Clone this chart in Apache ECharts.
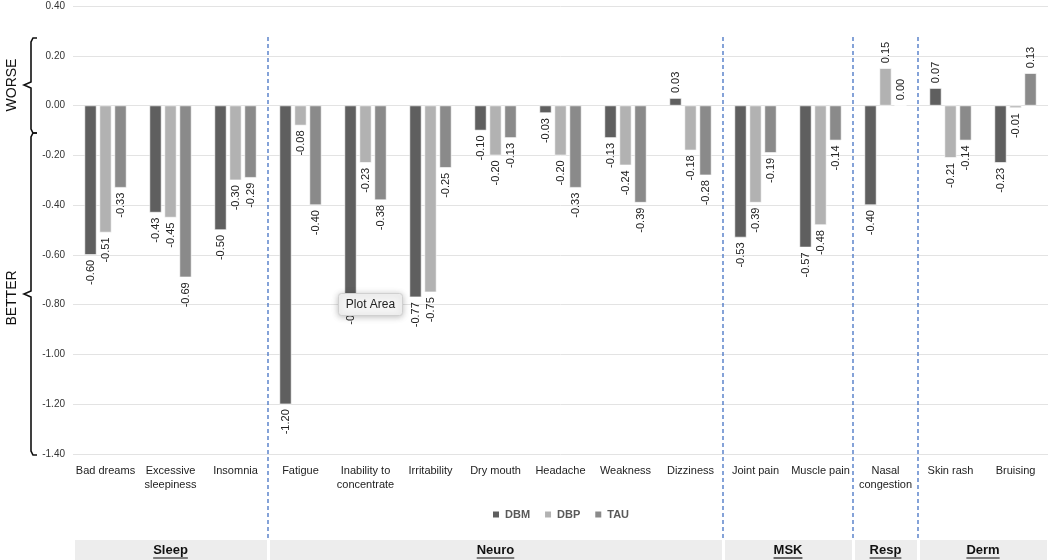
<!DOCTYPE html>
<html>
<head>
<meta charset="utf-8">
<script src="https://cdn.jsdelivr.net/npm/echarts@6/dist/echarts.min.js"></script>
<style>html,body{margin:0;padding:0;background:#fff;}#chart{width:1050px;height:560px;}</style>
</head>
<body>
<div id="chart"></div>
<script>
// ---- data ----
const categories = ['Bad dreams','Excessive\nsleepiness','Insomnia','Fatigue','Inability to\nconcentrate','Irritability','Dry mouth','Headache','Weakness','Dizziness','Joint pain','Muscle pain','Nasal\ncongestion','Skin rash','Bruising'];
const seriesNames = ['DBM','DBP','TAU'];
const dbm = [-0.60,-0.43,-0.50,-1.20,-0.76,-0.77,-0.10,-0.03,-0.13, 0.03,-0.53,-0.57,-0.40, 0.07,-0.23];
const dbp = [-0.51,-0.45,-0.30,-0.08,-0.23,-0.75,-0.20,-0.20,-0.24,-0.18,-0.39,-0.48, 0.15,-0.21,-0.01];
const tau = [-0.33,-0.69,-0.29,-0.40,-0.38,-0.25,-0.13,-0.33,-0.39,-0.28,-0.19,-0.14, 0.00,-0.14, 0.13];
const groupNames = ['Sleep','Neuro','MSK','Resp','Derm'];
const groupStart = [0,3,10,12,13];
const groupEnd   = [3,10,12,13,15];
const dividers = [3,10,12,13];
const yMin = -1.4, yMax = 0.4, yStep = 0.2;

const colors = ['#5f5f5f','#b2b2b2','#8a8a8a'];
const FONT = 'Liberation Sans, Arial, sans-serif';

const measureCtx = document.createElement('canvas').getContext('2d');
function textWidth(t, font){ measureCtx.font = font; return measureCtx.measureText(t).width; }

function items(arr){
  return arr.map(v => ({
    value: v,
    label: v < 0 ? {position:'bottom', align:'right'} : {position:'top', align:'left'}
  }));
}

const chart = echarts.init(document.getElementById('chart'), null, {renderer:'canvas'});

const barSeries = [dbm, dbp, tau].map((arr, i) => ({
  name: seriesNames[i],
  type: 'bar',
  xAxisIndex: 0, yAxisIndex: 0,
  data: items(arr),
  barWidth: 12,
  barGap: '25%',
  itemStyle: {color: colors[i], borderColor:'#ffffff', borderWidth:0.6},
  label: {
    show: true, rotate: 90, distance: 5, verticalAlign: 'middle',
    fontFamily: FONT, fontSize: 11, color: '#222',
    formatter: p => p.value.toFixed(2)
  },
  emphasis: {disabled: true}
}));

function brace(yTop, yMid, yBot){
  const x = 31, hook = 6, notch = 7, r = 4;
  return [
    {type:'polyline', shape:{points:[[x+hook,yTop],[x+2,yTop],[x,yTop+r],[x,yMid-3],[x-notch,yMid],[x,yMid+3],[x,yBot-r],[x+2,yBot],[x+hook,yBot]]},
     style:{stroke:'#111', lineWidth:1.6, fill:null}}
  ];
}

const option = {
  animation: false,
  backgroundColor: '#fff',
  textStyle: {fontFamily: FONT},
  legend: {
    data: seriesNames,
    left: 486, top: 504,
    icon: 'rect', itemWidth: 8, itemHeight: 8, itemGap: 13,
    textStyle: {fontSize: 11, color: '#595959', fontFamily: FONT, fontWeight: 'bold'}
  },
  grid: [
    {left: 73, right: 2, top: 6, bottom: 106},
    {left: 73, right: 2, top: 37, bottom: 20},
    {left: 73, right: 2, top: 540, bottom: 0}
  ],
  xAxis: [
    {type:'category', gridIndex:0, data: categories,
     axisLine:{show:false}, axisTick:{show:false},
     axisLabel:{interval:0, margin:10, fontSize:11, color:'#222', lineHeight:14, fontFamily:FONT}},
    {type:'value', gridIndex:1, min:0, max:15, show:false},
    {type:'value', gridIndex:2, min:0, max:15, show:false}
  ],
  yAxis: [
    {type:'value', gridIndex:0, min:yMin, max:yMax, interval:yStep,
     axisLine:{show:false}, axisTick:{show:false},
     splitLine:{lineStyle:{color:'#e3e3e3', width:1}},
     axisLabel:{formatter: v => v.toFixed(2), fontSize:10, color:'#333', margin:8, fontFamily:FONT}},
    {type:'value', gridIndex:1, min:0, max:1, show:false},
    {type:'value', gridIndex:2, min:0, max:1, show:false}
  ],
  series: barSeries.concat([
    {
      type:'custom', xAxisIndex:1, yAxisIndex:1, silent:true,
      data: dividers.map(d => [d]),
      renderItem: (params, api) => {
        const a = api.coord([api.value(0), 1]);
        const b = api.coord([api.value(0), 0]);
        return {type:'line', shape:{x1:a[0], y1:a[1], x2:b[0], y2:b[1]},
          style:{stroke:'#4472c4', lineWidth:1.3, lineDash:[4,3]}};
      }
    },
    {
      type:'custom', xAxisIndex:2, yAxisIndex:2, silent:true,
      data: groupNames.map((n, i) => [groupStart[i], groupEnd[i], i]),
      renderItem: (params, api) => {
        const p0 = api.coord([api.value(0), 1]);
        const p1 = api.coord([api.value(1), 0]);
        const name = groupNames[api.value(2)];
        const font = 'bold 13px ' + FONT;
        const w = textWidth(name, font);
        const cx = (p0[0] + p1[0]) / 2, cy = (p0[1] + p1[1]) / 2;
        return {type:'group', children:[
          {type:'rect', shape:{x:p0[0]+2, y:p0[1], width:p1[0]-p0[0]-3, height:p1[1]-p0[1]},
           style:{fill:'#ededed'}},
          {type:'text', style:{text:name, x:cx, y:cy, align:'center', verticalAlign:'middle',
            font: font, fill:'#111'}},
          {type:'line', shape:{x1:cx-w/2, y1:cy+8, x2:cx+w/2, y2:cy+8},
           style:{stroke:'#111', lineWidth:1.2}}
        ]};
      }
    }
  ]),
  graphic: [].concat(
    brace(38, 85, 133),
    brace(133, 294, 455),
    [
    {type:'text', x:12, y:85, rotation:Math.PI/2,
     style:{text:'WORSE', font:'14px '+FONT, fill:'#111', align:'center', verticalAlign:'middle'}},
    {type:'text', x:12, y:298, rotation:Math.PI/2,
     style:{text:'BETTER', font:'14px '+FONT, fill:'#111', align:'center', verticalAlign:'middle'}},
    {type:'group', left:338, top:293, z:1000, zlevel:1, children:[
      {type:'rect', z:1000, shape:{x:0, y:0, width:64, height:22, r:3},
       style:{fill:'#f4f4f4', stroke:'#d0d0d0', lineWidth:1, shadowBlur:6, shadowColor:'rgba(0,0,0,0.25)', shadowOffsetY:1}},
      {type:'text', z:1001, x:32, y:11, style:{text:'Plot Area', font:'12px '+FONT, fill:'#222', align:'center', verticalAlign:'middle'}}
    ]}
  ])
};
chart.setOption(option);
</script>
</body>
</html>
